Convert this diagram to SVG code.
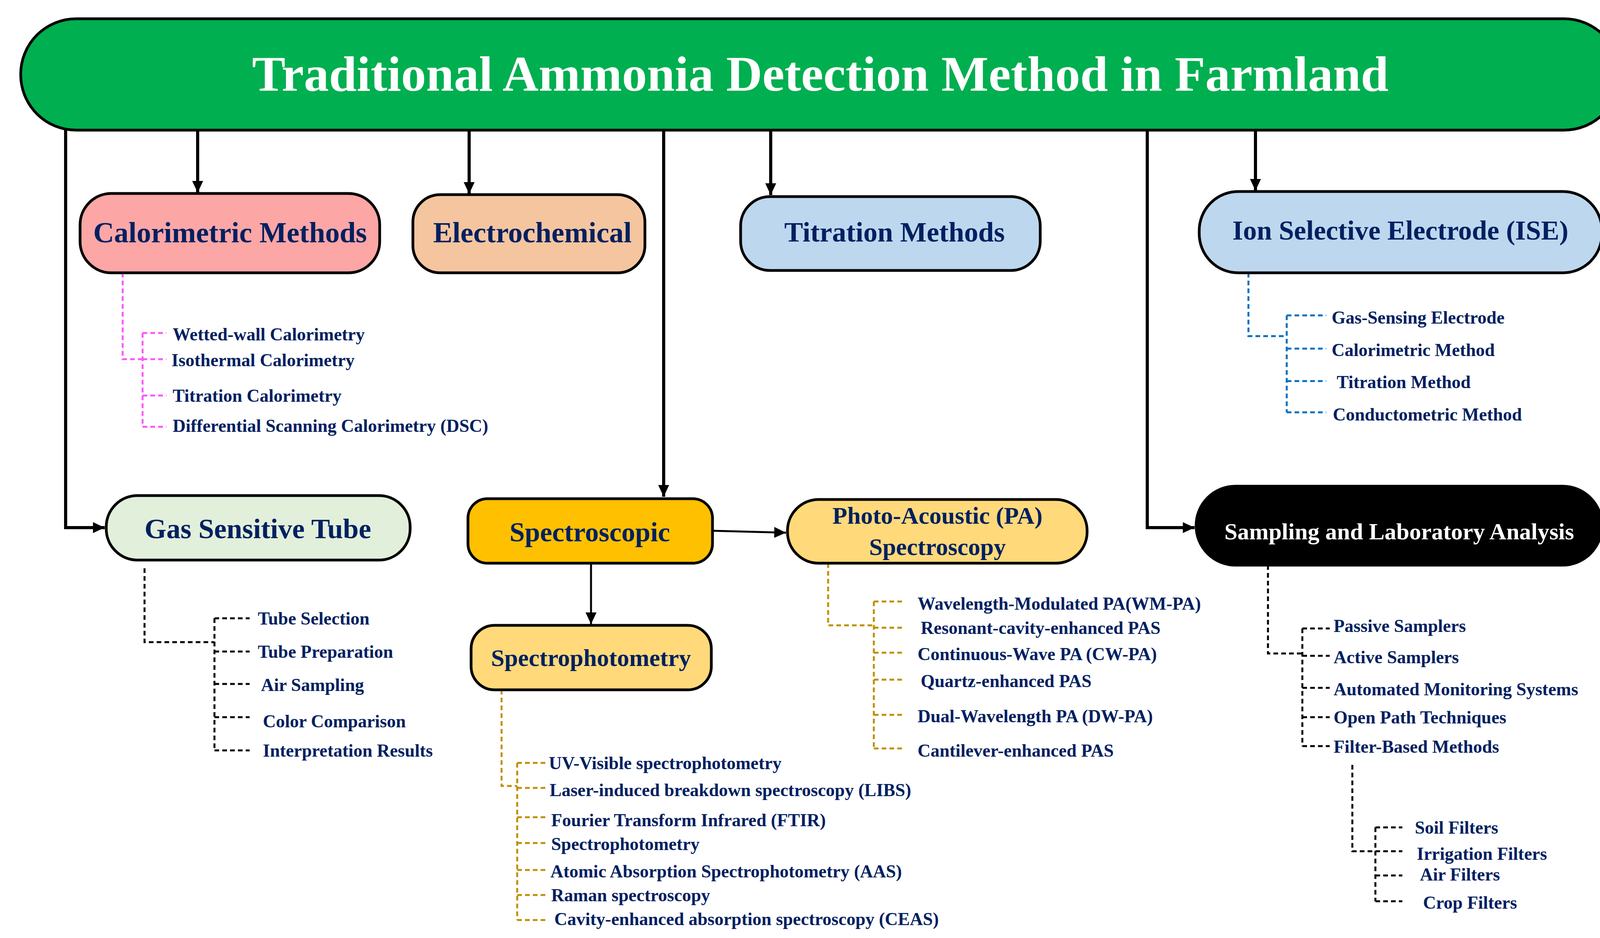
<svg xmlns="http://www.w3.org/2000/svg" width="4155" height="2400" viewBox="0 0 4155 2400">
<style>
.n{stroke:#000;stroke-width:7}
.t{font-family:"Liberation Serif","Times New Roman",serif;font-weight:bold;fill:#002060;text-anchor:middle}
.s{font-family:"Liberation Serif","Times New Roman",serif;font-weight:bold;fill:#002060;font-size:46px}
.c{fill:none;stroke:#000;stroke-width:8}
.d{fill:none;stroke-width:5;stroke-dasharray:12 8}
</style>
<defs>
<marker id="a" markerUnits="userSpaceOnUse" markerWidth="30" markerHeight="42" refX="30" refY="14" orient="auto" viewBox="0 0 30 28">
<path d="M0,0 L30,14 L0,28 Z" fill="#000"/>
</marker>
</defs>
<rect width="4155" height="2400" fill="#fff"/>
<g id="connectors">
<path class="c" d="M168,333 V1350 H268" marker-end="url(#a)"/>
<path class="c" d="M506,333 V493" marker-end="url(#a)"/>
<path class="c" d="M1201,333 V496" marker-end="url(#a)"/>
<path class="c" d="M1699,333 V1271" marker-end="url(#a)"/>
<path class="c" d="M1973,333 V499" marker-end="url(#a)"/>
<path class="c" d="M2937,333 V1350 H3058" marker-end="url(#a)"/>
<path class="c" d="M3214,333 V488" marker-end="url(#a)"/>
<path class="c" d="M1824,1358 L2012,1363" marker-end="url(#a)" style="stroke-width:5"/>
<path class="c" d="M1513,1441 V1597" marker-end="url(#a)" style="stroke-width:5"/>
<g stroke="#FF55FF" class="d">
<path d="M314,698 V919 H365 M365,852 V1092 M365,852 H426 M365,919 H426 M365,1012 H426 M365,1092 H426"/>
</g>
<g stroke="#0070C0" class="d">
<path d="M3196,698 V860 H3294 M3294,807 V1055 M3294,807 H3395 M3294,892 H3395 M3294,975 H3395 M3294,1055 H3395"/>
</g>
<g stroke="#000" class="d">
<path d="M370,1454 V1643 H549 M549,1582 V1920 M549,1582 H639 M549,1667 H639 M549,1750 H639 M549,1835 H639 M549,1920 H639"/>
<path d="M3246,1446 V1672 H3334 M3334,1608 V1909 M3334,1608 H3404 M3334,1678 H3404 M3334,1760 H3404 M3334,1835 H3404 M3334,1909 H3404"/>
<path d="M3462,1957 V2178 H3521 M3521,2117 V2306 M3521,2117 H3590 M3521,2178 H3590 M3521,2240 H3590 M3521,2306 H3590"/>
</g>
<g stroke="#BF9000" class="d">
<path d="M1284,1765 V2011 H1324 M1324,1952 V2354 M1324,1952 H1398 M1324,2016 H1398 M1324,2091 H1398 M1324,2157 H1398 M1324,2226 H1398 M1324,2290 H1398 M1324,2354 H1398"/>
<path d="M2120,1441 V1600 H2237 M2237,1539 V1915 M2237,1539 H2312 M2237,1606 H2312 M2237,1670 H2312 M2237,1739 H2312 M2237,1829 H2312 M2237,1915 H2312"/>
</g>
</g>
<g id="title">
<rect class="n" x="53" y="48" width="4093" height="285" rx="142" fill="#00AF50"/>
<text x="2100" y="232" style="font-family:'Liberation Serif','Times New Roman',serif;font-weight:bold;font-size:128px;fill:#fff;text-anchor:middle">Traditional Ammonia Detection Method in Farmland</text>
</g>
<g id="calorimetric">
<rect class="n" x="205" y="495" width="767" height="203" rx="80" fill="#FCA6A6"/>
<text class="t" x="589" y="620" font-size="74">Calorimetric Methods</text>
<g class="s"><text x="442" y="871">Wetted-wall Calorimetry</text><text x="439" y="937">Isothermal Calorimetry</text><text x="442" y="1028">Titration Calorimetry</text><text x="442" y="1105">Differential Scanning Calorimetry (DSC)</text></g>
</g>
<g id="electrochemical">
<rect class="n" x="1057" y="498" width="594" height="200" rx="70" fill="#F5C59F"/>
<text class="t" x="1363" y="620" font-size="74">Electrochemical</text>
</g>
<g id="titration">
<rect class="n" x="1896" y="503" width="767" height="189" rx="75" fill="#BDD7EE"/>
<text class="t" x="2290" y="618" font-size="72">Titration Methods</text>
</g>
<g id="ise">
<rect class="n" x="3070" y="490" width="1031" height="208" rx="100" fill="#BDD7EE"/>
<text class="t" x="3585" y="613" font-size="70">Ion Selective Electrode (ISE)</text>
<g class="s"><text x="3409" y="828">Gas-Sensing Electrode</text><text x="3409" y="911">Calorimetric Method</text><text x="3422" y="993">Titration Method</text><text x="3412" y="1076">Conductometric Method</text></g>
</g>
<g id="gastube">
<rect class="n" x="272" y="1268" width="778" height="165" rx="80" fill="#E2EFDA"/>
<text class="t" x="660" y="1377" font-size="72">Gas Sensitive Tube</text>
<g class="s"><text x="660" y="1598">Tube Selection</text><text x="660" y="1683">Tube Preparation</text><text x="668" y="1768">Air Sampling</text><text x="673" y="1861">Color Comparison</text><text x="673" y="1936">Interpretation Results</text></g>
</g>
<g id="spectroscopic">
<rect class="n" x="1198" y="1276" width="626" height="165" rx="50" fill="#FFC000"/>
<text class="t" x="1510" y="1385" font-size="70">Spectroscopic</text>
</g>
<g id="pa">
<rect class="n" x="2016" y="1278" width="767" height="163" rx="80" fill="#FFD97A"/>
<text class="t" x="2400" y="1340" font-size="62">Photo-Acoustic (PA)</text>
<text class="t" x="2400" y="1420" font-size="62">Spectroscopy</text>
<g class="s"><text x="2349" y="1560">Wavelength-Modulated PA(WM-PA)</text><text x="2357" y="1622">Resonant-cavity-enhanced PAS</text><text x="2349" y="1689">Continuous-Wave PA (CW-PA)</text><text x="2357" y="1758">Quartz-enhanced PAS</text><text x="2349" y="1848">Dual-Wavelength PA (DW-PA)</text><text x="2349" y="1936">Cantilever-enhanced PAS</text></g>
</g>
<g id="spectrophotometry">
<rect class="n" x="1206" y="1600" width="615" height="165" rx="60" fill="#FFD97A"/>
<text class="t" x="1513" y="1704" font-size="62">Spectrophotometry</text>
<g class="s"><text x="1405" y="1968">UV-Visible spectrophotometry</text><text x="1407" y="2037">Laser-induced breakdown spectroscopy (LIBS)</text><text x="1411" y="2114">Fourier Transform Infrared (FTIR)</text><text x="1411" y="2175">Spectrophotometry</text><text x="1409" y="2245">Atomic Absorption Spectrophotometry (AAS)</text><text x="1411" y="2306">Raman spectroscopy</text><text x="1419" y="2367">Cavity-enhanced absorption spectroscopy (CEAS)</text></g>
</g>
<g id="sampling">
<rect class="n" x="3062" y="1244" width="1039" height="202" rx="101" fill="#000"/>
<text x="3582" y="1380" style="font-family:'Liberation Serif','Times New Roman',serif;font-weight:bold;font-size:60px;fill:#fff;text-anchor:middle">Sampling and Laboratory Analysis</text>
<g class="s"><text x="3414" y="1617">Passive Samplers</text><text x="3414" y="1697">Active Samplers</text><text x="3414" y="1779">Automated Monitoring Systems</text><text x="3414" y="1851">Open Path Techniques</text><text x="3414" y="1926">Filter-Based Methods</text>
<text x="3622" y="2133">Soil Filters</text><text x="3627" y="2200">Irrigation Filters</text><text x="3635" y="2253">Air Filters</text><text x="3643" y="2325">Crop Filters</text></g>
</g>
</svg>
